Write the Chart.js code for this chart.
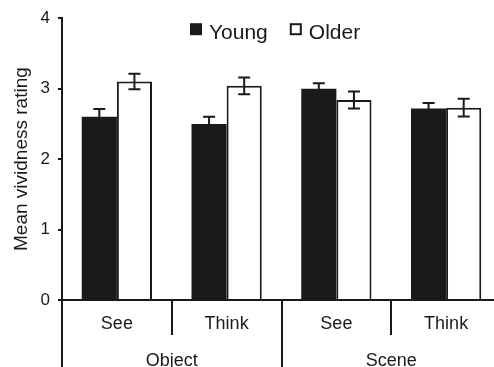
<!DOCTYPE html>
<html><head><meta charset="utf-8">
<script src="https://cdn.jsdelivr.net/npm/chart.js@4.4.0/dist/chart.umd.min.js"></script>
<style>html,body{margin:0;padding:0;background:#fff;overflow:hidden;width:494px;height:367px}
#wrap{position:relative;width:501px;height:367px}</style>
</head><body><div id="wrap"><canvas id="c"></canvas></div>
<script>
const conditions = ['See', 'Think', 'See', 'Think'];
const groups = ['Object', 'Scene'];
const seriesNames = ['Young', 'Older'];
const young = [2.60, 2.50, 3.00, 2.72];
const youngErr = [0.11, 0.10, 0.075, 0.075];
const older = [3.10, 3.04, 2.84, 2.73];
const olderErr = [0.11, 0.12, 0.12, 0.125];
const yTicks = [0, 1, 2, 3, 4];
const yTitle = 'Mean vividness rating';

const INK = '#1a1a1a';
const FONT = "'Liberation Sans', Arial, Helvetica, sans-serif";

const errorBars = {
  id: 'errorBars',
  afterDatasetsDraw(chart) {
    const ctx = chart.ctx, y = chart.scales.y;
    chart.data.datasets.forEach((ds, i) => {
      const meta = chart.getDatasetMeta(i);
      meta.data.forEach((bar, j) => {
        const v = ds.data[j], e = ds.errors[j];
        const top = y.getPixelForValue(v + e), bot = y.getPixelForValue(v - e);
        ctx.save();
        ctx.strokeStyle = INK; ctx.lineWidth = 2; ctx.beginPath();
        ctx.moveTo(bar.x, top); ctx.lineTo(bar.x, bot);
        ctx.moveTo(bar.x - 6, top); ctx.lineTo(bar.x + 6, top);
        ctx.moveTo(bar.x - 6, bot); ctx.lineTo(bar.x + 6, bot);
        ctx.stroke(); ctx.restore();
      });
    });
  }
};

const topLegend = {
  id: 'topLegend',
  afterDraw(chart) {
    const ctx = chart.ctx, ca = chart.chartArea;
    ctx.save();
    ctx.font = '21px ' + FONT;
    ctx.textAlign = 'left'; ctx.textBaseline = 'alphabetic';
    let x = ca.left + 128;
    const boxTop = ca.top + 5, base = ca.top + 21, box = 12;
    chart.data.datasets.forEach((ds, i) => {
      ctx.fillStyle = ds.backgroundColor; ctx.fillRect(x, boxTop, box, box);
      if (ds.borderWidth > 0) {
        ctx.strokeStyle = ds.borderColor; ctx.lineWidth = 2;
        ctx.strokeRect(x + 1, boxTop + 1, box - 2, box - 2);
      }
      ctx.fillStyle = INK;
      ctx.fillText(ds.label, x + box + 7, base);
      x += box + 7 + ctx.measureText(ds.label).width + 22;
    });
    ctx.restore();
  }
};

new Chart(document.getElementById('c'), {
  type: 'bar',
  data: {
    labels: conditions,
    datasets: [
      { label: seriesNames[0], data: young, errors: youngErr, xAxisID: 'x', yAxisID: 'y',
        backgroundColor: INK, borderColor: INK, borderWidth: 0,
        categoryPercentage: 0.64, barPercentage: 1.0 },
      { label: seriesNames[1], data: older, errors: olderErr, xAxisID: 'x', yAxisID: 'y',
        backgroundColor: '#ffffff', borderColor: INK, borderWidth: 2,
        categoryPercentage: 0.64, barPercentage: 1.0 }
    ]
  },
  options: {
    responsive: true, maintainAspectRatio: false, animation: false,
    layout: { padding: { top: 17, left: 0, right: 0, bottom: 0 } },
    plugins: { legend: { display: false }, tooltip: { enabled: false } },
    scales: {
      x: {
        type: 'category', position: 'bottom', weight: 0, offset: true,
        grid: { display: true, drawOnChartArea: false, offset: true, tickLength: 35, color: INK, lineWidth: 2 },
        border: { display: true, color: INK, width: 2 },
        ticks: { color: INK, font: { family: FONT, size: 18 }, padding: -22, maxRotation: 0, autoSkip: false },
        afterFit(s) { s.height = 35; }
      },
      x2: {
        type: 'category', labels: groups, position: 'bottom', weight: 1, offset: true,
        grid: { display: true, drawOnChartArea: false, offset: true, tickLength: 32, color: INK, lineWidth: 2 },
        border: { display: false },
        ticks: { color: INK, font: { family: FONT, size: 18 }, padding: -17, maxRotation: 0, autoSkip: false },
        afterFit(s) { s.height = 32; }
      },
      y: {
        min: 0, max: 4,
        afterBuildTicks(s) { s.ticks = yTicks.map(v => ({ value: v })); },
        ticks: { color: INK, font: { family: FONT, size: 17 }, padding: 8 },
        grid: { drawOnChartArea: false, tickLength: 4, color: INK, lineWidth: 2 },
        border: { color: INK, width: 2 },
        title: { display: true, text: yTitle, color: INK, font: { family: FONT, size: 19 }, padding: { top: 10, bottom: 0 } },
        afterFit(s) { s.width = 62; }
      }
    }
  },
  plugins: [errorBars, topLegend]
});
</script>
</body></html>
